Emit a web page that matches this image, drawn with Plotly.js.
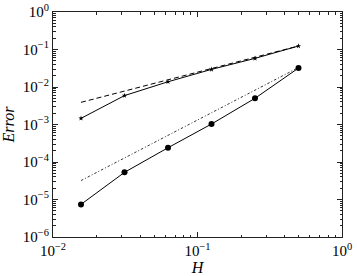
<!DOCTYPE html>
<html>
<head>
<meta charset="utf-8">
<script src="https://cdn.plot.ly/plotly-3.0.1.min.js"></script>
<style>html,body{margin:0;padding:0;background:#fff;}#chart{width:357px;height:276px;}</style>
</head>
<body>
<div id="chart"></div>
<script>
var H = [1/64, 1/32, 1/16, 1/8, 1/4, 1/2];
var errA = [1.46e-3, 5.9e-3, 1.38e-2, 2.95e-2, 5.8e-2, 0.124];
var errB = [7.4e-6, 5.3e-5, 2.4e-4, 1.03e-3, 5.0e-3, 3.2e-2];
var refSlope1 = [3.9e-3, 0.124];
var refSlope2 = [3.2e-5, 3.3e-2];
var refH = [1/64, 1/2];
var xTickVals = [0.01, 0.1, 1];
var xTickText = ['10<sup>−2</sup>', '10<sup>−1</sup>', '10<sup>0</sup>'];
var yTickVals = [1e-6, 1e-5, 1e-4, 1e-3, 1e-2, 1e-1, 1];
var yTickText = ['10<sup>−6</sup>', '10<sup>−5</sup>', '10<sup>−4</sup>', '10<sup>−3</sup>', '10<sup>−2</sup>', '10<sup>−1</sup>', '10<sup>0</sup>'];

function minorVals(lo, hi) {
  var v = [];
  for (var e = lo; e < hi; e++) for (var k = 2; k <= 9; k++) v.push(k * Math.pow(10, e));
  return v;
}

var traces = [
  {x: refH, y: refSlope1, mode: 'lines', line: {color: '#000', width: 1, dash: '5px,3px'}, hoverinfo: 'none'},
  {x: refH, y: refSlope2, mode: 'lines', line: {color: '#333', width: 1, dash: '2.5px,2px,1px,2px'}, hoverinfo: 'none'},
  {x: H, y: errA, mode: 'lines+markers', line: {color: '#000', width: 1}, marker: {symbol: 'star', size: 4, color: '#000'}},
  {x: H, y: errB, mode: 'lines+markers', line: {color: '#000', width: 1}, marker: {symbol: 'circle', size: 6, color: '#000'}}
];

var font = {family: 'Liberation Serif, DejaVu Serif, serif', size: 15, color: '#000'};
var titleFont = {family: 'Liberation Serif, DejaVu Serif, serif', size: 16, color: '#000'};
var axisCommon = {
  type: 'log', showgrid: false, zeroline: false, showline: true, linecolor: '#222', linewidth: 1,
  mirror: 'ticks', ticks: 'inside', ticklen: 5, tickcolor: '#222', tickmode: 'array', tickfont: font
};
var layout = {
  width: 357, height: 276,
  margin: {l: 53, r: 15, t: 12, b: 39},
  showlegend: false,
  paper_bgcolor: '#fff', plot_bgcolor: '#fff',
  font: font,
  xaxis: Object.assign({}, axisCommon, {
    range: [-2, 0], tickvals: xTickVals, ticktext: xTickText,
    minor: {ticks: 'inside', ticklen: 2.5, tickcolor: '#222', tickmode: 'array', tickvals: minorVals(-2, 0)},
    title: {text: '<i>H</i>', font: titleFont, standoff: 1}
  }),
  yaxis: Object.assign({}, axisCommon, {
    range: [-6, 0], tickvals: yTickVals, ticktext: yTickText,
    minor: {ticks: 'inside', ticklen: 2.5, tickcolor: '#222', tickmode: 'array', tickvals: minorVals(-6, 0)},
    title: {text: '<i>Error</i>', font: titleFont, standoff: 4}
  })
};
Plotly.newPlot('chart', traces, layout, {staticPlot: true, displayModeBar: false});
</script>
</body>
</html>
